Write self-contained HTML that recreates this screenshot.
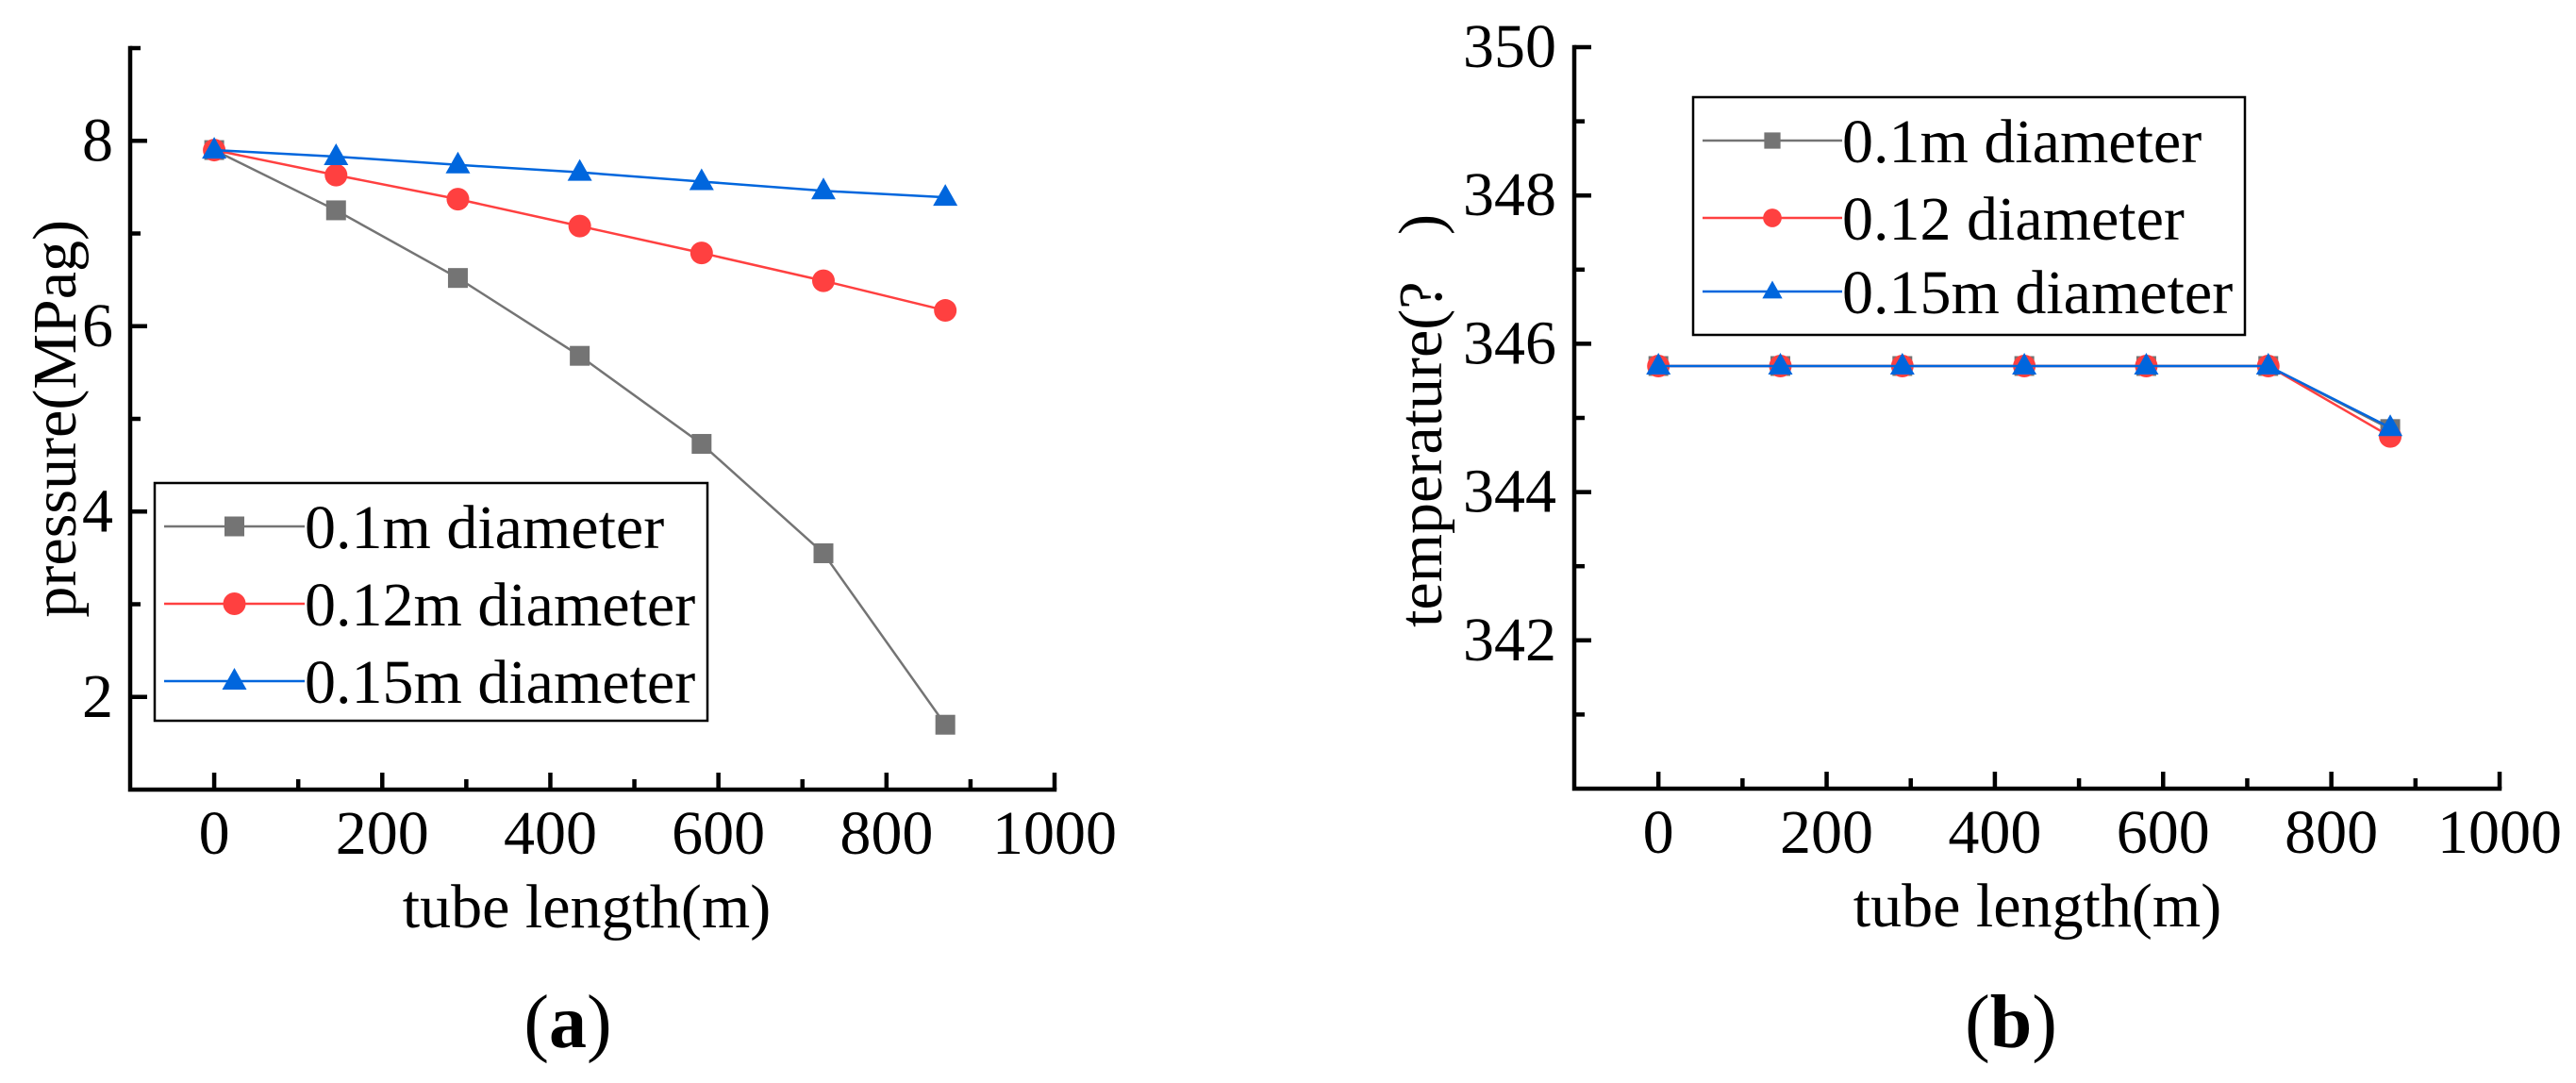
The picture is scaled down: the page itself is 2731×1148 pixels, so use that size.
<!DOCTYPE html>
<html><head><meta charset="utf-8"><style>
html,body{margin:0;padding:0;background:#fff;}
svg{display:block;font-family:"Liberation Serif",serif;}
</style></head><body>
<svg id="fig" width="2731" height="1148" viewBox="0 0 2731 1148" xmlns="http://www.w3.org/2000/svg">
<rect width="2731" height="1148" fill="#fff"/>
</svg>
<script>
// ---- data ----
const xValues = [0, 145, 290, 435, 580, 725, 870];
const pressure01 = [7.9, 7.25, 6.52, 5.68, 4.73, 3.55, 1.7];
const pressure012 = [7.9, 7.63, 7.37, 7.08, 6.79, 6.49, 6.17];
const pressure015 = [7.9, 7.83, 7.74, 7.66, 7.56, 7.46, 7.39];
const temp01 = [345.7, 345.7, 345.7, 345.7, 345.7, 345.7, 344.85];
const temp012 = [345.7, 345.7, 345.7, 345.7, 345.7, 345.7, 344.75];
const temp015 = [345.7, 345.7, 345.7, 345.7, 345.7, 345.7, 344.87];
const xTickLabels = [0, 200, 400, 600, 800, 1000];
const pTickLabels = [2, 4, 6, 8];
const tTickLabels = [342, 344, 346, 348, 350];
const seriesNamesA = ["0.1m diameter", "0.12m diameter", "0.15m diameter"];
const seriesNamesB = ["0.1m diameter", "0.12 diameter", "0.15m diameter"];

const NS = "http://www.w3.org/2000/svg";
const svg = document.getElementById("fig");
const COLORS = ["#747474", "#ff4040", "#0066dd"];
const SHAPES = ["square", "circle", "triangle"];

function el(tag, attrs, parent) {
  const e = document.createElementNS(NS, tag);
  for (const k in attrs) e.setAttribute(k, attrs[k]);
  (parent || svg).appendChild(e);
  return e;
}
function txt(str, attrs, parent) {
  const t = el("text", attrs, parent);
  t.textContent = str;
  return t;
}
function marker(shape, cx, cy, color, g, s) {
  s = s || 1;
  let m;
  if (shape === "square") {
    m = el("rect", {x: cx - 10.5 * s, y: cy - 10.5 * s, width: 21 * s, height: 21 * s, fill: color}, g);
  } else if (shape === "circle") {
    m = el("circle", {cx: cx, cy: cy, r: 12 * s, fill: color}, g);
  } else {
    m = el("polygon", {points: `${cx},${cy - 14 * s} ${cx - 13 * s},${cy + 9 * s} ${cx + 13 * s},${cy + 9 * s}`, fill: color}, g);
  }
  return m;
}

function drawChart(cfg) {
  const xS = v => cfg.x0 + (v - cfg.xmin) / (cfg.xmax - cfg.xmin) * (cfg.x1 - cfg.x0);
  const yS = v => cfg.y0 - (v - cfg.ymin) / (cfg.ymax - cfg.ymin) * (cfg.y0 - cfg.y1);
  const g = el("g", {});
  
  

  const ax = el("path", {d: `M${cfg.x0},${cfg.y1} L${cfg.x0},${cfg.y0} L${cfg.x1},${cfg.y0}`, stroke: "#000", "stroke-width": 4.5, fill: "none", "stroke-linecap": "square"}, g);
  
  
  for (let v = 0; v <= cfg.xmax; v += 100) {
    const major = v % 200 === 0;
    const x = xS(v);
    const t = el("line", {x1: x, x2: x, y1: cfg.y0, y2: cfg.y0 - (major ? 18 : 11), stroke: "#000", "stroke-width": 4.5}, g);
    
    
  }
  xTickLabels.forEach(v => {
    const t = txt(String(v), {x: xS(v), y: cfg.y0 + 68, "font-size": 66, "text-anchor": "middle"}, g);
    
    
  });
  for (let v = cfg.ymin + 1; v <= cfg.ymax + 0.001; v += 1) {
    const major = cfg.yTickLabels.indexOf(v) >= 0;
    const y = yS(v);
    const t = el("line", {x1: cfg.x0, x2: cfg.x0 + (major ? 18 : 11), y1: y, y2: y, stroke: "#000", "stroke-width": 4.5}, g);
    
    
  }
  cfg.yTickLabels.forEach(v => {
    const t = txt(String(v), {x: cfg.ylabX, y: yS(v) + 21, "font-size": 66, "text-anchor": "end"}, g);
    
    
  });
  const xt = txt("tube length(m)", {x: cfg.xTitleX, y: cfg.y0 + 146, "font-size": 66, "text-anchor": "middle"}, g);
  
  
  const yt = txt(cfg.yTitle, {x: 0, y: 0, "font-size": 66, "text-anchor": "end", transform: `translate(${cfg.yTitleX},${cfg.yTitleY}) rotate(-90)`}, g);
  
  

  cfg.series.forEach((vals, i) => {
    const sg = el("g", {}, g);
    
    
    const pts = vals.map((v, j) => `${xS(xValues[j])},${yS(v)}`).join(" ");
    const pl = el("polyline", {points: pts, fill: "none", stroke: COLORS[i], "stroke-width": 2.5}, sg);
    
    
    vals.forEach((v, j) => {
      const m = marker(SHAPES[i], xS(xValues[j]), yS(v), COLORS[i], sg);
      
      
    });
  });

  const L = cfg.legend;
  const lg = el("g", {}, g);
  
  
  el("rect", {x: L.x, y: L.y, width: L.w, height: L.h, fill: "#fff", stroke: "#000", "stroke-width": 2.5}, lg);
  cfg.names.forEach((n, i) => {
    const ry = L.rows[i];
    const eg = el("g", {}, lg);
    
    
    el("line", {x1: L.x + 10, x2: L.tx, y1: ry, y2: ry, stroke: COLORS[i], "stroke-width": 2.5}, eg);
    marker(SHAPES[i], (L.x + 10 + L.tx) / 2, ry, COLORS[i], eg, L.ms);
    txt(n, {x: L.tx, y: ry + L.dy, "font-size": L.fs}, eg);
  });
}

drawChart({
  name: "chart-a-pressure",
  x0: 138, x1: 1118, xmin: -100, xmax: 1000,
  y0: 837, y1: 51, ymin: 1, ymax: 9,
  yTickLabels: pTickLabels, ylabX: 120,
  series: [pressure01, pressure012, pressure015],
  names: seriesNamesA,
  yTitle: "pressure(MPag)", yTitleX: 80, yTitleY: 233,
  xTitleX: 622,
  legend: {x: 164, y: 512, w: 586, h: 252, rows: [558, 640, 722], tx: 323, dy: 23, fs: 66, ms: 1}
});
drawChart({
  name: "chart-b-temperature",
  x0: 1669, x1: 2650, xmin: -100, xmax: 1000,
  y0: 836, y1: 50, ymin: 340, ymax: 350,
  yTickLabels: tTickLabels, ylabX: 1650,
  series: [temp01, temp012, temp015],
  names: seriesNamesB,
  yTitle: "temperature(?\u00a0\u00a0\u00a0)", yTitleX: 1528, yTitleY: 227,
  xTitleX: 2160,
  legend: {x: 1795, y: 103, w: 585, h: 252, rows: [149, 231, 309], tx: 1953, dy: 23, fs: 66, ms: 0.82}
});

const la = txt("", {x: 602, y: 1110, "font-size": 80, "text-anchor": "middle"});


la.innerHTML = '(<tspan font-weight="bold">a</tspan>)';
const lb = txt("", {x: 2132, y: 1110, "font-size": 80, "text-anchor": "middle"});


lb.innerHTML = '(<tspan font-weight="bold">b</tspan>)';
</script>
</body></html>
